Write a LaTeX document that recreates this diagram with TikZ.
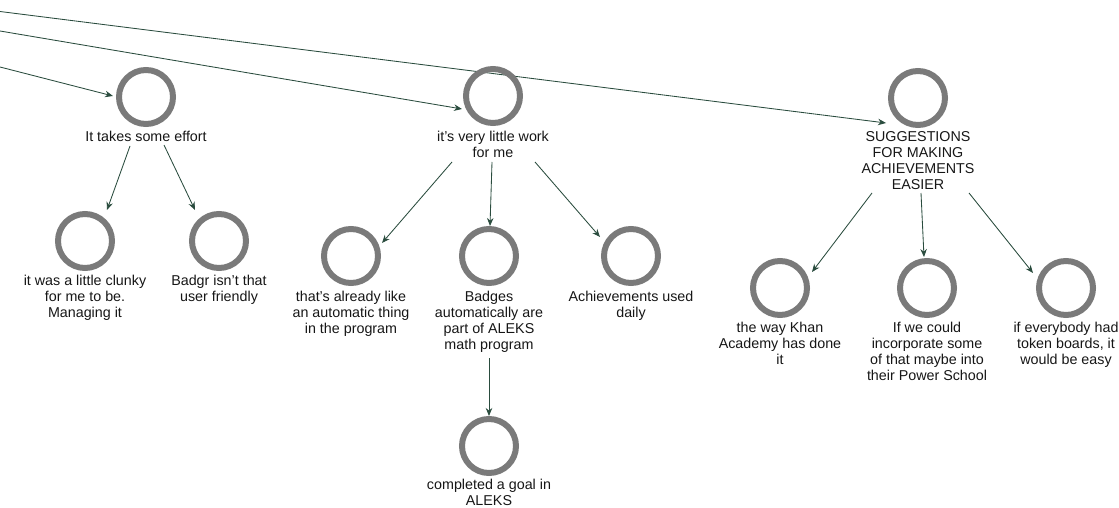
\documentclass[tikz,border=0pt]{standalone}
\usepackage{fontspec}
\setmainfont{Liberation Sans}
\usetikzlibrary{calc,arrows.meta}
\definecolor{ringgrey}{RGB}{122,122,122}
\definecolor{edgecol}{RGB}{42,76,62}
\definecolor{txt}{RGB}{22,22,22}
\begin{document}
\begin{tikzpicture}[x=1pt,y=-1pt,
  ring/.style={circle,draw=ringgrey,line width=6pt,minimum size=54pt,inner sep=0pt},
  lab/.style={anchor=north,align=center,inner sep=0pt,text=txt,
    font=\fontsize{14.3}{16}\selectfont},
  edge/.style={draw=edgecol,line width=0.85pt,-{Stealth[length=8pt,width=6.5pt]}}]
\useasboundingbox (0,0) rectangle (1119,508);
% node positions
\coordinate (pA) at (146,97);
\coordinate (pB) at (493,96);
\coordinate (pC) at (918,98);
\coordinate (pA1) at (85,241);
\coordinate (pA2) at (219,241);
\coordinate (pB1) at (351,256);
\coordinate (pB2) at (489,256);
\coordinate (pB3) at (631,256);
\coordinate (pB2a) at (489,446);
\coordinate (pC1) at (780,288);
\coordinate (pC2) at (927,288);
\coordinate (pC3) at (1066,288);
% free ends of incoming connectors
\coordinate (in1) at (0,11.5);
\coordinate (in2) at (0,31);
\coordinate (in3) at (0,67);
% edges (drawn first)
\draw[edge] (in1) -- ($(pC)+(-32,25)$);
\draw[edge] (in2) -- ($(pB)+(-31,13)$);
\draw[edge] (in3) -- ($(pA)+(-33,-1)$);
\draw[edge] ($(pA)+(-16,49)$) -- ($(pA1)+(22,-31)$);
\draw[edge] ($(pA)+(18,48)$) -- ($(pA2)+(-24,-31)$);
\draw[edge] ($(pB)+(-41,66)$) -- ($(pB1)+(31,-13)$);
\draw[edge] ($(pB)+(-1,66)$) -- ($(pB2)+(1,-30)$);
\draw[edge] ($(pB)+(42,66)$) -- ($(pB3)+(-31,-19)$);
\draw[edge] ($(pB2)+(0,102)$) -- ($(pB2a)+(0,-30)$);
\draw[edge] ($(pC)+(-46,95)$) -- ($(pC1)+(32,-16)$);
\draw[edge] ($(pC)+(3,95)$) -- ($(pC2)+(-3,-31)$);
\draw[edge] ($(pC)+(51,95)$) -- ($(pC3)+(-33,-15)$);
% rings
\node[ring] (A) at (pA) {};
\node[ring] (B) at (pB) {};
\node[ring] (C) at (pC) {};
\node[ring] (A1) at (pA1) {};
\node[ring] (A2) at (pA2) {};
\node[ring] (B1) at (pB1) {};
\node[ring] (B2) at (pB2) {};
\node[ring] (B3) at (pB3) {};
\node[ring] (B2a) at (pB2a) {};
\node[ring] (C1) at (pC1) {};
\node[ring] (C2) at (pC2) {};
\node[ring] (C3) at (pC3) {};
% labels
\node[lab] (Al) at ($(pA)+(0,34)$) {It takes some effort};
\node[lab] (Bl) at ($(pB)+(0,35)$) {it's very little work\\for me};
\node[lab] (Cl) at ($(pC)+(0,33)$) {SUGGESTIONS\\FOR MAKING\\ACHIEVEMENTS\\EASIER};
\node[lab] (A1l) at ($(pA1)+(0,34)$) {it was a little clunky\\for me to be.\\Managing it};
\node[lab] (A2l) at ($(pA2)+(0,34)$) {Badgr isn't that\\user friendly};
\node[lab] (B1l) at ($(pB1)+(0,35)$) {that's already like\\an automatic thing\\in the program};
\node[lab] (B2l) at ($(pB2)+(0,35)$) {Badges\\automatically are\\part of ALEKS\\math program};
\node[lab] (B3l) at ($(pB3)+(0,35)$) {Achievements used\\daily};
\node[lab] (B2al) at ($(pB2a)+(0,33)$) {completed a goal in\\ALEKS};
\node[lab] (C1l) at ($(pC1)+(0,34)$) {the way Khan\\Academy has done\\it};
\node[lab] (C2l) at ($(pC2)+(0,34)$) {If we could\\incorporate some\\of that maybe into\\their Power School};
\node[lab] (C3l) at ($(pC3)+(0,34)$) {if everybody had\\token boards, it\\would be easy};
\end{tikzpicture}
\end{document}
